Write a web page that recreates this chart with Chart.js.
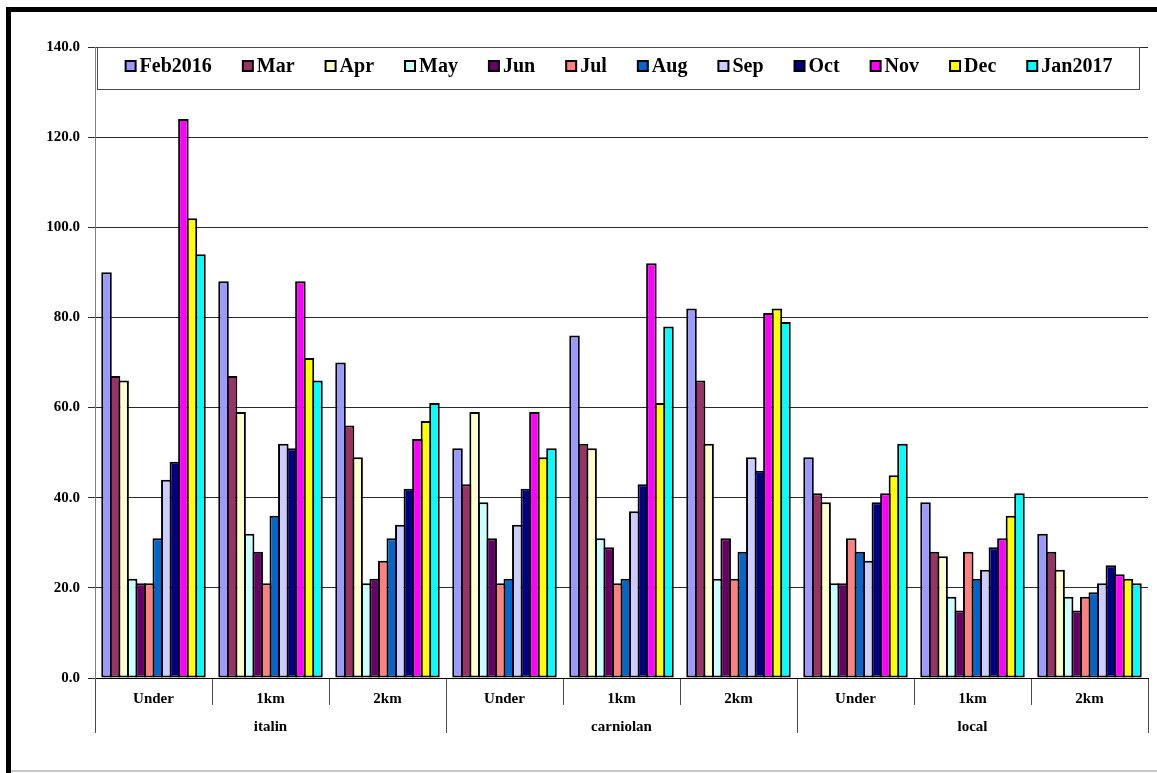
<!DOCTYPE html>
<html>
<head>
<meta charset="utf-8">
<title>Monthly counts by bee line and distance</title>
<script src="https://cdn.jsdelivr.net/npm/chart.js@4.4.1/dist/chart.umd.min.js"></script>
<style>
  html, body { margin: 0; padding: 0; background: #fff; }
  #wrap { position: relative; width: 1157px; height: 773px; }
  canvas { display: block; }
</style>
</head>
<body>
<div id="wrap"><canvas id="chart" width="1157" height="773"></canvas></div>
<script>
// Categories: distance class inside each bee line
const distanceLabels = ['Under', '1km', '2km', 'Under', '1km', '2km', 'Under', '1km', '2km'];
const lineLabels = ['italin', 'carniolan', 'local'];

// Monthly series, one value per distance class (italin, carniolan, local)
const feb2016 = [90, 88, 70, 51, 76, 82, 49, 39, 32];
const mar     = [67, 67, 56, 43, 52, 66, 41, 28, 28];
const apr     = [66, 59, 49, 59, 51, 52, 39, 27, 24];
const may     = [22, 32, 21, 39, 31, 22, 21, 18, 18];
const jun     = [21, 28, 22, 31, 29, 31, 21, 15, 15];
const jul     = [21, 21, 26, 21, 21, 22, 31, 28, 18];
const aug     = [31, 36, 31, 22, 22, 28, 28, 22, 19];
const sep     = [44, 52, 34, 34, 37, 49, 26, 24, 21];
const oct     = [48, 51, 42, 42, 43, 46, 39, 29, 25];
const nov     = [124, 88, 53, 59, 92, 81, 41, 31, 23];
const dec     = [102, 71, 57, 49, 61, 82, 45, 36, 22];
const jan2017 = [94, 66, 61, 51, 78, 79, 52, 41, 21];

const seriesNames = ['Feb2016', 'Mar', 'Apr', 'May', 'Jun', 'Jul', 'Aug', 'Sep', 'Oct', 'Nov', 'Dec', 'Jan2017'];
const seriesValues = [feb2016, mar, apr, may, jun, jul, aug, sep, oct, nov, dec, jan2017];
const palette = ['#9999FF', '#993366', '#FFFFCC', '#CCFFFF', '#660066', '#FF8080',
                 '#0066CC', '#CCCCFF', '#000080', '#FF00FF', '#FFFF00', '#00FFFF'];

const FONT_FAMILY = '"Liberation Serif", "Times New Roman", Times, serif';
Chart.defaults.font.family = FONT_FAMILY;
Chart.defaults.font.size = 15;
Chart.defaults.font.weight = 'bold';
Chart.defaults.color = '#000';

// White page with the heavy frame on the top and left edges
const framePlugin = {
  id: 'frame',
  beforeDraw(chart) {
    const { ctx, width, height } = chart;
    ctx.save();
    ctx.fillStyle = '#fff';
    ctx.fillRect(0, 0, width, height);
    ctx.fillStyle = '#000';
    ctx.fillRect(6, 7, width - 6, 5);
    ctx.fillRect(6, 7, 5, height - 7);
    ctx.fillStyle = '#c8c8c8';
    ctx.fillRect(11, height - 3, width - 11, 2);
    ctx.restore();
  }
};

// Boxed single-row legend sitting at the top of the plot area
const legendBoxPlugin = {
  id: 'legendBox',
  afterDraw(chart) {
    const { ctx, chartArea: a } = chart;
    const left = a.left + 2, right = a.right - 8, top = a.top, h = 43;
    ctx.save();
    ctx.fillStyle = '#fff';
    ctx.fillRect(left, top, right - left, h);
    ctx.strokeStyle = '#4a4a4a';
    ctx.lineWidth = 1;
    ctx.strokeRect(left + 0.5, top + 0.5, right - left - 1, h - 1);
    ctx.font = 'bold 20px ' + FONT_FAMILY;
    const items = chart.data.datasets.map(d => ({
      text: d.label, color: d.backgroundColor, w: ctx.measureText(d.label).width
    }));
    const box = 12, gap = 3, space = 30;
    const total = items.reduce((s, it) => s + box + gap + it.w, 0) + space * (items.length - 1);
    let x = (left + right) / 2 - total / 2;
    const cy = top + 19;
    ctx.textBaseline = 'middle';
    ctx.textAlign = 'left';
    items.forEach(it => {
      ctx.fillStyle = '#000';
      ctx.fillRect(x, cy - 6, box, box);
      ctx.fillStyle = it.color;
      ctx.fillRect(x + 2, cy - 4, box - 4, box - 4);
      ctx.fillStyle = '#000';
      ctx.fillText(it.text, x + box + gap, cy + 1);
      x += box + gap + it.w + space;
    });
    ctx.restore();
  }
};

const datasets = seriesNames.map((name, i) => ({
  label: name,
  data: seriesValues[i],
  backgroundColor: palette[i],
  borderColor: '#000',
  borderWidth: 2,
  borderSkipped: false
}));

new Chart(document.getElementById('chart'), {
  type: 'bar',
  data: { labels: distanceLabels, datasets },
  plugins: [framePlugin, legendBoxPlugin],
  options: {
    responsive: false,
    animation: false,
    devicePixelRatio: 1,
    layout: { padding: { left: 12, top: 47, right: 9, bottom: 33 } },
    plugins: { legend: { display: false }, tooltip: { enabled: false } },
    datasets: { bar: { categoryPercentage: 0.876, barPercentage: 1.235 } },
    scales: {
      x: {
        type: 'category',
        labels: distanceLabels,
        offset: true,
        grid: { offset: true, drawOnChartArea: false, tickLength: 27, color: '#4a4a4a' },
        border: { color: '#000' },
        ticks: { padding: -15, maxRotation: 0, autoSkip: false },
        afterFit(s) { s.height = 27; s.paddingLeft = 0; s.paddingRight = 0; }
      },
      x2: {
        type: 'category',
        labels: lineLabels,
        position: 'bottom',
        offset: true,
        grid: { offset: true, drawOnChartArea: false, tickLength: 28, color: '#4a4a4a' },
        border: { display: false },
        ticks: { padding: -15, maxRotation: 0, autoSkip: false },
        afterFit(s) { s.height = 35; s.paddingLeft = 0; s.paddingRight = 0; }
      },
      y: {
        min: 0,
        max: 140,
        ticks: { stepSize: 20, padding: 8, callback: v => Number(v).toFixed(1) },
        grid: { color: '#2a2a2a', tickLength: 7 },
        border: { color: '#808080' },
        afterFit(s) { s.width = 83; s.paddingTop = 0; s.paddingBottom = 0; }
      }
    }
  }
});
</script>
</body>
</html>
